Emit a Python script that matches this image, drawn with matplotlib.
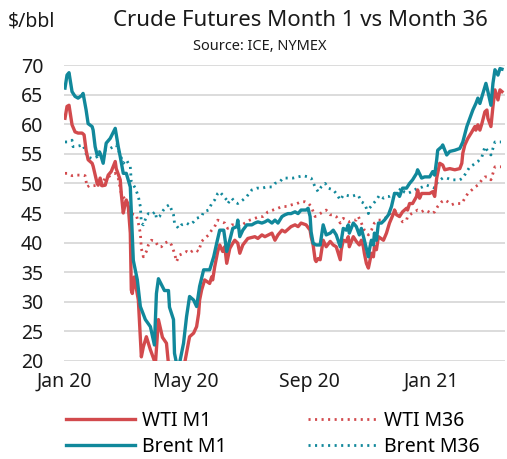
import datetime as dt
import matplotlib
matplotlib.use('Agg')
import matplotlib.pyplot as plt
from matplotlib.lines import Line2D

plt.rcParams['font.family'] = ['Noto Sans', 'DejaVu Sans']

# days since 2020-01-01 and $/bbl
BRENT_M1_DAY = [1, 3, 5, 8, 11, 14, 18, 19, 22, 24, 28, 29, 31, 33, 36, 39, 42, 46, 51, 54,
                56, 59, 62, 66, 69, 73, 76, 81, 86, 90, 92, 94, 100, 104, 105, 109, 110, 112, 115, 119,
                122, 125, 129, 132, 135, 139, 142, 145, 149, 152, 155, 159, 162, 165, 168, 172, 173, 175, 178, 182,
                187, 190, 193, 197, 200, 203, 207, 210, 213, 217, 220, 223, 226, 230, 233, 236, 241, 243, 245, 246,
                248, 251, 255, 258, 261, 265, 268, 271, 275, 278, 281, 283, 284, 288, 291, 294, 296, 299, 303, 304,
                306, 308, 309, 311, 313, 316, 319, 323, 326, 329, 332, 334, 337, 341, 344, 347, 351, 352, 356, 359,
                364, 367, 369, 371, 372, 376, 377, 381, 384, 389, 394, 397, 401, 404, 407, 410, 412, 414, 417, 420,
                422, 425, 427, 429, 432, 434, 436]
BRENT_M1 = [66.1, 68.3, 68.7, 65.5, 64.7, 64.4, 64.9, 65.2, 62.4, 60.1, 59.6, 59.0, 56.2, 54.8, 55.1, 53.4, 56.8, 57.6, 59.3, 56.2,
            54.5, 51.7, 51.7, 49.4, 37.0, 33.7, 29.2, 27.0, 25.8, 22.7, 31.4, 33.9, 31.9, 31.9, 29.1, 27.0, 21.3, 19.6, 19.6, 23.0,
            27.5, 30.9, 30.3, 29.2, 32.6, 35.4, 35.4, 35.4, 37.6, 39.9, 42.1, 42.1, 38.5, 40.4, 42.4, 42.7, 43.8, 41.0, 42.1, 43.0,
            43.0, 43.3, 43.5, 43.3, 43.5, 43.8, 43.3, 43.8, 43.3, 44.4, 44.7, 44.9, 44.9, 45.2, 44.9, 45.5, 45.5, 45.8, 44.4, 41.8,
            39.9, 39.6, 39.6, 43.0, 41.3, 41.6, 42.1, 41.3, 39.3, 42.4, 42.1, 43.0, 41.6, 43.3, 42.7, 41.3, 42.4, 40.4, 37.6, 38.8,
            40.4, 39.6, 41.6, 40.4, 43.3, 43.3, 43.8, 44.7, 46.1, 48.3, 48.3, 47.8, 49.2, 49.2, 50.0, 50.6, 51.7, 52.3, 50.9, 51.1,
            51.1, 52.0, 51.4, 54.0, 55.6, 56.2, 56.5, 54.8, 55.4, 55.6, 55.9, 57.0, 59.6, 61.0, 62.4, 63.5, 64.4, 63.5, 65.2, 66.9,
            65.5, 63.2, 66.9, 69.2, 68.3, 69.4, 69.3]

WTI_M1_DAY = [1, 3, 5, 8, 11, 14, 18, 20, 22, 24, 28, 29, 33, 34, 36, 38, 41, 44, 47, 51,
              52, 56, 57, 59, 61, 62, 64, 66, 67, 68, 70, 74, 77, 79, 82, 86, 89, 91, 94, 98,
              102, 104, 107, 110, 115, 120, 125, 129, 132, 134, 135, 137, 140, 145, 147, 148, 150, 153, 155, 158,
              160, 162, 165, 168, 170, 173, 175, 178, 183, 190, 193, 197, 200, 207, 210, 213, 217, 220, 226, 230,
              233, 236, 241, 245, 246, 248, 250, 251, 253, 255, 258, 261, 265, 268, 271, 275, 276, 278, 281, 283,
              284, 288, 291, 294, 296, 298, 299, 301, 303, 304, 306, 308, 309, 311, 313, 318, 321, 324, 328, 329,
              331, 334, 337, 341, 342, 344, 347, 351, 352, 354, 356, 359, 364, 367, 369, 371, 374, 377, 379, 384,
              389, 394, 396, 397, 399, 402, 406, 409, 410, 412, 414, 416, 419, 421, 422, 425, 427, 429, 432, 434,
              436]
WTI_M1 = [61.0, 63.0, 63.2, 59.9, 58.7, 58.5, 58.5, 58.2, 55.6, 54.0, 53.4, 52.9, 50.0, 49.7, 50.9, 49.6, 49.7, 51.4, 52.0, 53.7,
          52.5, 50.6, 48.3, 45.0, 46.6, 47.2, 46.1, 41.6, 32.0, 31.4, 34.2, 30.3, 20.7, 22.4, 24.1, 21.9, 20.5, 19.5, 27.0, 24.0,
          23.0, 19.5, 15.0, 5.0, 15.0, 19.5, 24.1, 24.7, 25.8, 28.0, 30.3, 32.0, 33.7, 33.1, 34.2, 33.7, 35.9, 38.5, 39.6, 38.5,
          39.3, 36.5, 39.0, 39.9, 40.4, 39.9, 38.2, 39.6, 40.7, 41.0, 40.7, 41.3, 41.0, 41.6, 40.4, 41.3, 42.1, 41.8, 42.7, 43.0,
          42.7, 43.3, 43.0, 42.1, 41.0, 39.6, 37.1, 36.8, 37.3, 37.1, 40.4, 39.3, 40.2, 39.6, 39.3, 37.1, 38.8, 40.4, 40.2, 41.0,
          39.3, 41.0, 40.2, 39.6, 40.4, 39.3, 38.2, 36.5, 35.7, 36.5, 38.2, 37.6, 39.3, 38.8, 41.0, 40.4, 41.6, 43.3, 44.9, 45.5,
          44.7, 44.4, 45.2, 45.8, 45.5, 46.6, 46.6, 47.8, 48.9, 47.5, 48.3, 48.3, 48.3, 48.6, 47.8, 50.9, 53.4, 53.1, 52.3, 52.5,
          52.3, 52.5, 53.4, 55.1, 56.5, 57.6, 58.7, 59.6, 59.0, 59.9, 59.0, 60.1, 62.1, 62.4, 61.0, 59.6, 63.0, 65.8, 64.1, 65.8,
          65.5]

BRENT_M36_DAY = [1, 4, 8, 9, 14, 19, 23, 28, 33, 36, 41, 46, 49, 52, 56, 59, 62, 66, 67, 71,
                 74, 76, 77, 79, 82, 84, 87, 91, 92, 95, 99, 102, 105, 109, 110, 114, 117, 122, 125, 129,
                 132, 137, 139, 144, 147, 150, 153, 155, 158, 162, 163, 167, 170, 173, 178, 182, 187, 192, 197, 202,
                 207, 210, 215, 218, 223, 228, 233, 238, 243, 246, 250, 253, 256, 260, 263, 268, 271, 275, 278, 281,
                 286, 290, 293, 296, 299, 301, 303, 304, 308, 311, 314, 318, 321, 324, 329, 332, 336, 339, 342, 346,
                 349, 352, 357, 361, 366, 369, 372, 377, 381, 386, 391, 394, 397, 401, 404, 407, 412, 416, 419, 422,
                 425, 427, 429, 432, 435]
BRENT_M36 = [57.0, 57.0, 57.3, 56.2, 56.3, 56.5, 54.5, 54.2, 54.5, 55.6, 55.6, 55.9, 56.2, 56.5, 54.8, 53.4, 54.0, 52.8, 50.3, 49.2,
             47.8, 46.1, 43.3, 43.0, 44.4, 44.9, 44.7, 45.2, 44.1, 44.4, 45.5, 46.1, 46.4, 44.7, 43.3, 42.4, 43.0, 43.3, 43.0, 43.5,
             44.1, 44.4, 45.2, 45.5, 46.6, 47.2, 48.3, 48.6, 48.0, 47.2, 46.6, 47.5, 46.9, 46.6, 47.2, 47.8, 48.9, 49.2, 49.2, 49.4,
             49.4, 50.0, 50.3, 50.9, 50.9, 50.9, 51.1, 51.3, 51.1, 50.9, 49.4, 48.6, 49.4, 50.0, 49.2, 48.9, 48.3, 47.2, 48.0, 48.0,
             47.8, 48.0, 48.0, 46.9, 46.6, 45.8, 44.9, 45.8, 46.6, 47.2, 48.0, 47.5, 47.8, 47.8, 48.3, 48.6, 49.2, 48.5, 48.3, 48.6,
             48.9, 49.2, 49.4, 49.7, 49.4, 49.2, 50.3, 50.9, 50.9, 50.6, 50.6, 50.6, 50.9, 52.0, 52.8, 53.1, 53.7, 54.5, 56.2, 55.4,
             54.8, 55.9, 57.0, 57.0, 57.0]

WTI_M36_DAY = [1, 4, 8, 11, 16, 21, 23, 26, 29, 34, 37, 41, 44, 47, 51, 54, 57, 61, 64, 67,
               71, 72, 74, 76, 77, 79, 82, 84, 87, 91, 94, 97, 100, 104, 107, 110, 112, 115, 119, 122,
               125, 127, 130, 134, 137, 140, 144, 147, 150, 153, 157, 160, 163, 167, 172, 175, 180, 185, 190, 195,
               198, 203, 208, 213, 217, 222, 227, 232, 236, 240, 243, 246, 250, 253, 258, 261, 265, 268, 271, 275,
               278, 281, 284, 288, 291, 293, 296, 299, 303, 306, 309, 313, 316, 319, 323, 326, 329, 334, 337, 341,
               342, 346, 349, 352, 356, 359, 363, 366, 369, 372, 376, 379, 382, 386, 389, 396, 399, 402, 406, 409,
               412, 416, 419, 422, 425, 427, 429, 432, 435]
WTI_M36 = [51.7, 51.7, 51.3, 51.4, 51.4, 51.3, 49.4, 49.7, 49.6, 49.7, 49.7, 50.9, 51.1, 51.4, 51.7, 50.9, 48.3, 47.2, 46.6, 44.9,
           44.7, 44.7, 43.3, 41.6, 39.0, 37.6, 38.5, 39.6, 40.4, 40.2, 39.3, 39.3, 39.9, 40.2, 39.6, 38.2, 36.8, 37.9, 38.2, 38.5,
           38.2, 38.5, 38.8, 38.5, 40.2, 40.7, 41.3, 42.1, 42.7, 43.8, 43.5, 43.3, 42.4, 43.0, 43.0, 42.7, 43.3, 43.8, 44.1, 44.4,
           44.4, 45.2, 45.5, 45.8, 46.1, 46.1, 46.4, 46.6, 46.9, 46.9, 46.7, 46.1, 44.4, 44.7, 45.2, 45.5, 44.7, 44.7, 44.4, 43.3,
           44.1, 43.8, 43.5, 43.8, 43.8, 44.4, 43.3, 42.1, 41.3, 42.1, 43.3, 43.8, 43.8, 44.1, 44.4, 45.2, 45.5, 44.4, 43.5, 43.8,
           44.4, 44.9, 45.2, 45.5, 45.2, 45.5, 45.2, 44.9, 45.2, 46.1, 46.9, 47.2, 46.9, 46.4, 46.6, 46.6, 47.5, 48.3, 48.9, 49.4,
           49.7, 50.6, 51.1, 51.1, 50.6, 51.7, 52.8, 52.8, 52.8]

TICK_DATES = ['2020-01-01', '2020-05-01', '2020-09-01', '2021-01-01']
TICK_LABELS = ['Jan 20', 'May 20', 'Sep 20', 'Jan 21']

RED = '#d24a4d'
TEAL = '#11889b'
INK = '#1a1a1a'

start = dt.datetime(2020, 1, 1)
def to_dates(days):
    return [start + dt.timedelta(days=d) for d in days]

fig = plt.figure(figsize=(5.07, 4.59), dpi=100)
ax = fig.add_axes([64 / 507, 1 - 361 / 459, 441 / 507, 296 / 459])

dot = dict(linestyle=(0, (0.75, 1.6)), linewidth=2.0)
ax.plot(to_dates(WTI_M36_DAY), WTI_M36, color=RED, **dot)
ax.plot(to_dates(BRENT_M36_DAY), BRENT_M36, color=TEAL, **dot)
ax.plot(to_dates(WTI_M1_DAY), WTI_M1, color=RED, linewidth=2.4)
ax.plot(to_dates(BRENT_M1_DAY), BRENT_M1, color=TEAL, linewidth=2.4)

ax.set_ylim(20, 70)
ax.set_xlim(start, start + dt.timedelta(days=439))
ax.set_yticks(range(20, 71, 5))
ax.set_xticks([dt.datetime.strptime(d, '%Y-%m-%d') for d in TICK_DATES])
ax.set_xticklabels(TICK_LABELS)
ax.tick_params(axis='both', length=0, labelsize=14, colors=INK)
ax.tick_params(axis='y', pad=15)
ax.tick_params(axis='x', pad=8)
ax.grid(axis='y', color='#d9d9d9', linewidth=1.3)
ax.set_axisbelow(True)
for s in ax.spines.values():
    s.set_visible(False)

fig.text(8 / 507, 1 - 22 / 459, '$/bbl', fontsize=14, va='center', ha='left', color=INK)
fig.text(300 / 507, 1 - 21 / 459, 'Crude Futures Month 1 vs Month 36', fontsize=16,
         va='center', ha='center', color=INK)
fig.text(260 / 507, 1 - 46 / 459, 'Source: ICE, NYMEX', fontsize=10.5, va='center', ha='center',
         color=INK)

handles = [Line2D([], [], color=RED, linewidth=2.4),
           Line2D([], [], color=TEAL, linewidth=2.4),
           Line2D([], [], color=RED, **dot),
           Line2D([], [], color=TEAL, **dot)]
labels = ['WTI M1', 'Brent M1', 'WTI M36', 'Brent M36']
fig.legend(handles, labels, ncol=2, loc='lower left', bbox_to_anchor=(66 / 507, 2 / 459),
           frameon=False, fontsize=14, handlelength=3.55, handletextpad=0.36,
           columnspacing=4.2, labelspacing=0.3, borderpad=0, borderaxespad=0)

fig.savefig('out.png', dpi=100)
